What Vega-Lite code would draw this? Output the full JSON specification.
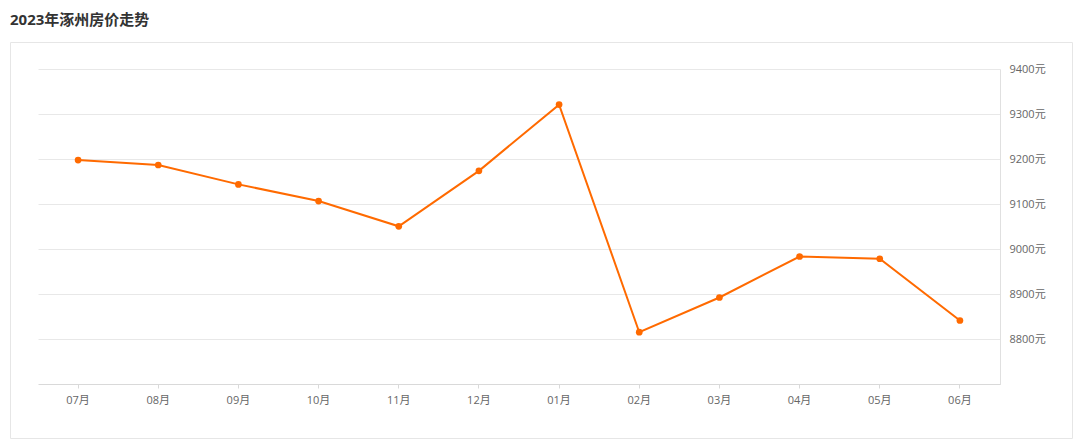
{
  "$schema": "https://vega.github.io/schema/vega-lite/v6.json",
  "autosize": {"type": "none"},
  "width": 1062,
  "height": 396,
  "padding": {"left": 10, "top": 42, "right": 8, "bottom": 9},
  "background": "#ffffff",
  "title": {
    "text": "2023年涿州房价走势",
    "anchor": "start",
    "frame": "group",
    "fontSize": 15,
    "fontWeight": "bold",
    "color": "#333333",
    "font": "Open Sans, Noto Sans CJK SC",
    "offset": 14
  },
  "config": {
    "view": {"stroke": "#e6e6e6", "strokeWidth": 1},
    "font": "Open Sans, Noto Sans CJK SC"
  },
  "data": {
    "values": [
      {"month": "07月", "price": 9198},
      {"month": "08月", "price": 9187},
      {"month": "09月", "price": 9144},
      {"month": "10月", "price": 9107},
      {"month": "11月", "price": 9051},
      {"month": "12月", "price": 9174},
      {"month": "01月", "price": 9321},
      {"month": "02月", "price": 8816},
      {"month": "03月", "price": 8893},
      {"month": "04月", "price": 8984},
      {"month": "05月", "price": 8979},
      {"month": "06月", "price": 8842}
    ]
  },
  "encoding": {
    "x": {
      "field": "month",
      "type": "ordinal",
      "sort": null,
      "bandPosition": 0.5,
      "scale": {"type": "band", "range": [28, 990], "paddingInner": 0, "paddingOuter": 0},
      "axis": {
        "title": null,
        "offset": -54,
        "labelAngle": 0,
        "labelColor": "#666666",
        "labelFontSize": 11,
        "labelPadding": 6,
        "domainColor": "#d9d9d9",
        "tickColor": "#d9d9d9",
        "tickSize": 4,
        "grid": false
      }
    }
  },
  "layer": [
    {
      "mark": {"type": "line", "color": "#ff6a00", "strokeWidth": 2},
      "encoding": {
        "y": {
          "field": "price",
          "type": "quantitative",
          "scale": {"domain": [8700, 9400], "nice": false, "zero": false, "range": [342.5, 27]},
          "axis": {
            "title": null,
            "orient": "left",
            "values": [8800, 8900, 9000, 9100, 9200, 9300, 9400],
            "labels": false,
            "ticks": false,
            "domain": false,
            "grid": true,
            "gridColor": "#e8e8e8"
          }
        }
      }
    },
    {
      "mark": {"type": "point", "filled": true, "color": "#ff6a00", "opacity": 1, "size": 45},
      "encoding": {
        "y": {
          "field": "price",
          "type": "quantitative",
          "axis": {
            "title": null,
            "orient": "right",
            "offset": -72,
            "values": [8800, 8900, 9000, 9100, 9200, 9300, 9400],
            "labelExpr": "datum.value + '元'",
            "labelColor": "#666666",
            "labelFontSize": 11,
            "labelPadding": 9,
            "ticks": false,
            "domainColor": "#e0e0e0",
            "grid": false
          }
        }
      }
    }
  ],
  "resolve": {"axis": {"y": "independent"}}
}
